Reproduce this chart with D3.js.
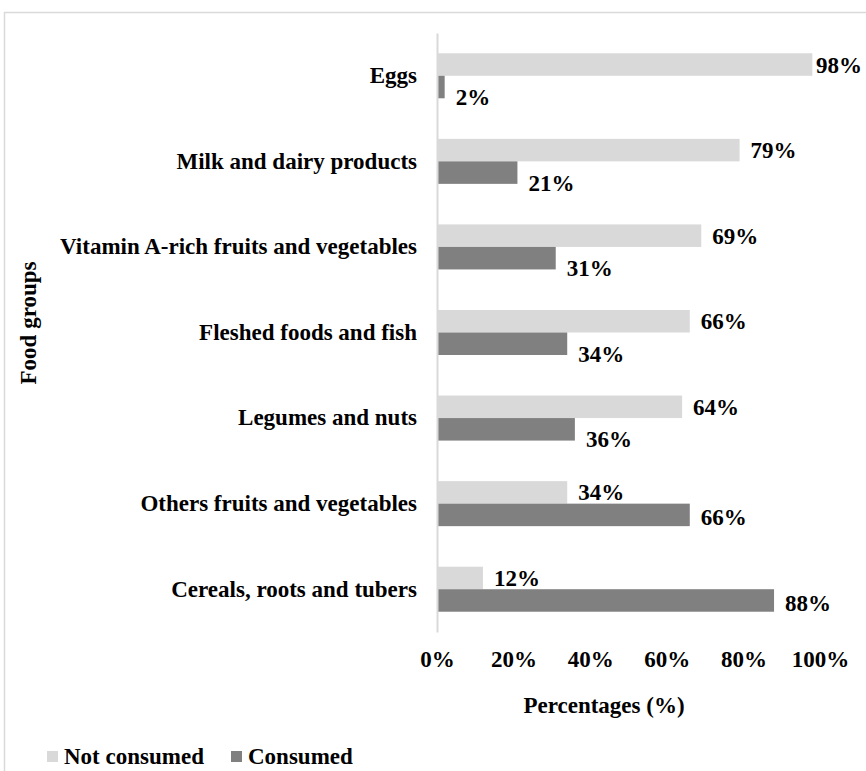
<!DOCTYPE html>
<html lang="en">
<head>
    <meta charset="UTF-8">
    <title>Food groups consumption</title>
    <style>
        body {
            margin: 0;
            background: #fff;
        }

        svg text {
            font-family: "Liberation Serif", "Times New Roman", serif;
            font-weight: bold;
            fill: #000;
        }
    </style>
</head>
<body>
    <div id="chart"></div>
    <script src="https://d3js.org/d3.v7.min.js"></script>
    <script>
        // Food groups, top to bottom
        const categories = [
            "Eggs",
            "Milk and dairy products",
            "Vitamin A-rich fruits and vegetables",
            "Fleshed foods and fish",
            "Legumes and nuts",
            "Others fruits and vegetables",
            "Cereals, roots and tubers"
        ];
        const seriesNames = ["Not consumed", "Consumed"];
        const notConsumed = [98, 79, 69, 66, 64, 34, 12];
        const consumed = [2, 21, 31, 34, 36, 66, 88];
        const xTicks = [0, 20, 40, 60, 80, 100];

        const colors = { "Not consumed": "#d9d9d9", "Consumed": "#808080" };

        const width = 866, height = 771;
        const fontSize = "23px";

        const svg = d3.select("#chart").append("svg")
            .attr("width", width)
            .attr("height", height);

        // outer chart frame (cropped at right and bottom)
        svg.append("path")
            .attr("d", "M4.5,771 V12.5 H866")
            .attr("fill", "none")
            .attr("stroke", "#d9d9d9")
            .attr("stroke-width", 1.5);

        const x = d3.scaleLinear().domain([0, 100]).range([437, 820]);

        const y = d3.scaleBand()
            .domain(categories)
            .range([33, 632])
            .paddingInner(0.474)
            .paddingOuter(0.237);

        const ySub = d3.scaleBand()
            .domain(seriesNames)
            .range([0, y.bandwidth()]);

        const rows = categories.map((c, i) => ({
            category: c,
            values: [
                { series: "Not consumed", value: notConsumed[i] },
                { series: "Consumed", value: consumed[i], other: notConsumed[i] }
            ]
        }));

        // bars
        const group = svg.selectAll(".cat")
            .data(rows)
            .enter().append("g")
            .attr("class", "cat")
            .attr("transform", d => "translate(0," + y(d.category) + ")");

        group.selectAll("rect")
            .data(d => d.values)
            .enter().append("rect")
            .attr("x", x(0))
            .attr("y", d => ySub(d.series))
            .attr("width", d => x(d.value) - x(0))
            .attr("height", ySub.bandwidth())
            .attr("fill", d => colors[d.series]);

        // value labels, kept inside the chart area on the right
        group.selectAll(".lbl")
            .data(d => d.values)
            .enter().append("text")
            .attr("class", "lbl")
            .attr("y", d => {
                let yy = ySub(d.series) + ySub.bandwidth() / 2;
                if (d.series === "Consumed") yy += d.value < d.other ? 10 : 2;
                return yy;
            })
            .attr("dy", "0.35em")
            .style("font-size", fontSize)
            .text(d => d.value + "%")
            .attr("x", function (d) {
                const w = this.getComputedTextLength();
                return Math.min(x(d.value) + 11, width - 4 - w);
            });

        // category axis
        const yAxis = svg.append("g")
            .attr("transform", "translate(" + x(0) + ",0)")
            .call(d3.axisLeft(y).tickSize(0).tickPadding(20).tickSizeOuter(0));
        yAxis.select(".domain")
            .attr("stroke", "#d9d9d9")
            .attr("stroke-width", 2);
        yAxis.selectAll("text")
            .style("font-size", fontSize)
            .style("font-family", "'Liberation Serif', serif")
            .style("font-weight", "bold")
            .attr("fill", "#000");

        // value axis (labels only)
        const xAxis = svg.append("g")
            .attr("transform", "translate(0,645)")
            .call(d3.axisBottom(x).tickValues(xTicks).tickFormat(d => d + "%").tickSize(0).tickPadding(0));
        xAxis.select(".domain").remove();
        xAxis.selectAll("text")
            .attr("dy", "0.71em")
            .attr("y", 6)
            .style("font-size", fontSize)
            .style("font-family", "'Liberation Serif', serif")
            .style("font-weight", "bold")
            .attr("fill", "#000");

        // axis titles
        svg.append("text")
            .attr("x", 604)
            .attr("y", 713)
            .attr("text-anchor", "middle")
            .style("font-size", fontSize)
            .text("Percentages (%)");

        svg.append("text")
            .attr("transform", "translate(36,323) rotate(-90)")
            .attr("text-anchor", "middle")
            .style("font-size", fontSize)
            .text("Food groups");

        // legend
        const legend = svg.append("g")
            .attr("transform", "translate(47,751)");
        const legendX = [0, 184];
        const item = legend.selectAll(".leg")
            .data(seriesNames)
            .enter().append("g")
            .attr("class", "leg")
            .attr("transform", (d, i) => "translate(" + legendX[i] + ",0)");
        item.append("rect")
            .attr("width", 11)
            .attr("height", 11)
            .attr("fill", d => colors[d]);
        item.append("text")
            .attr("x", 17)
            .attr("y", 13)
            .style("font-size", fontSize)
            .text(d => d);
    </script>
</body>
</html>
